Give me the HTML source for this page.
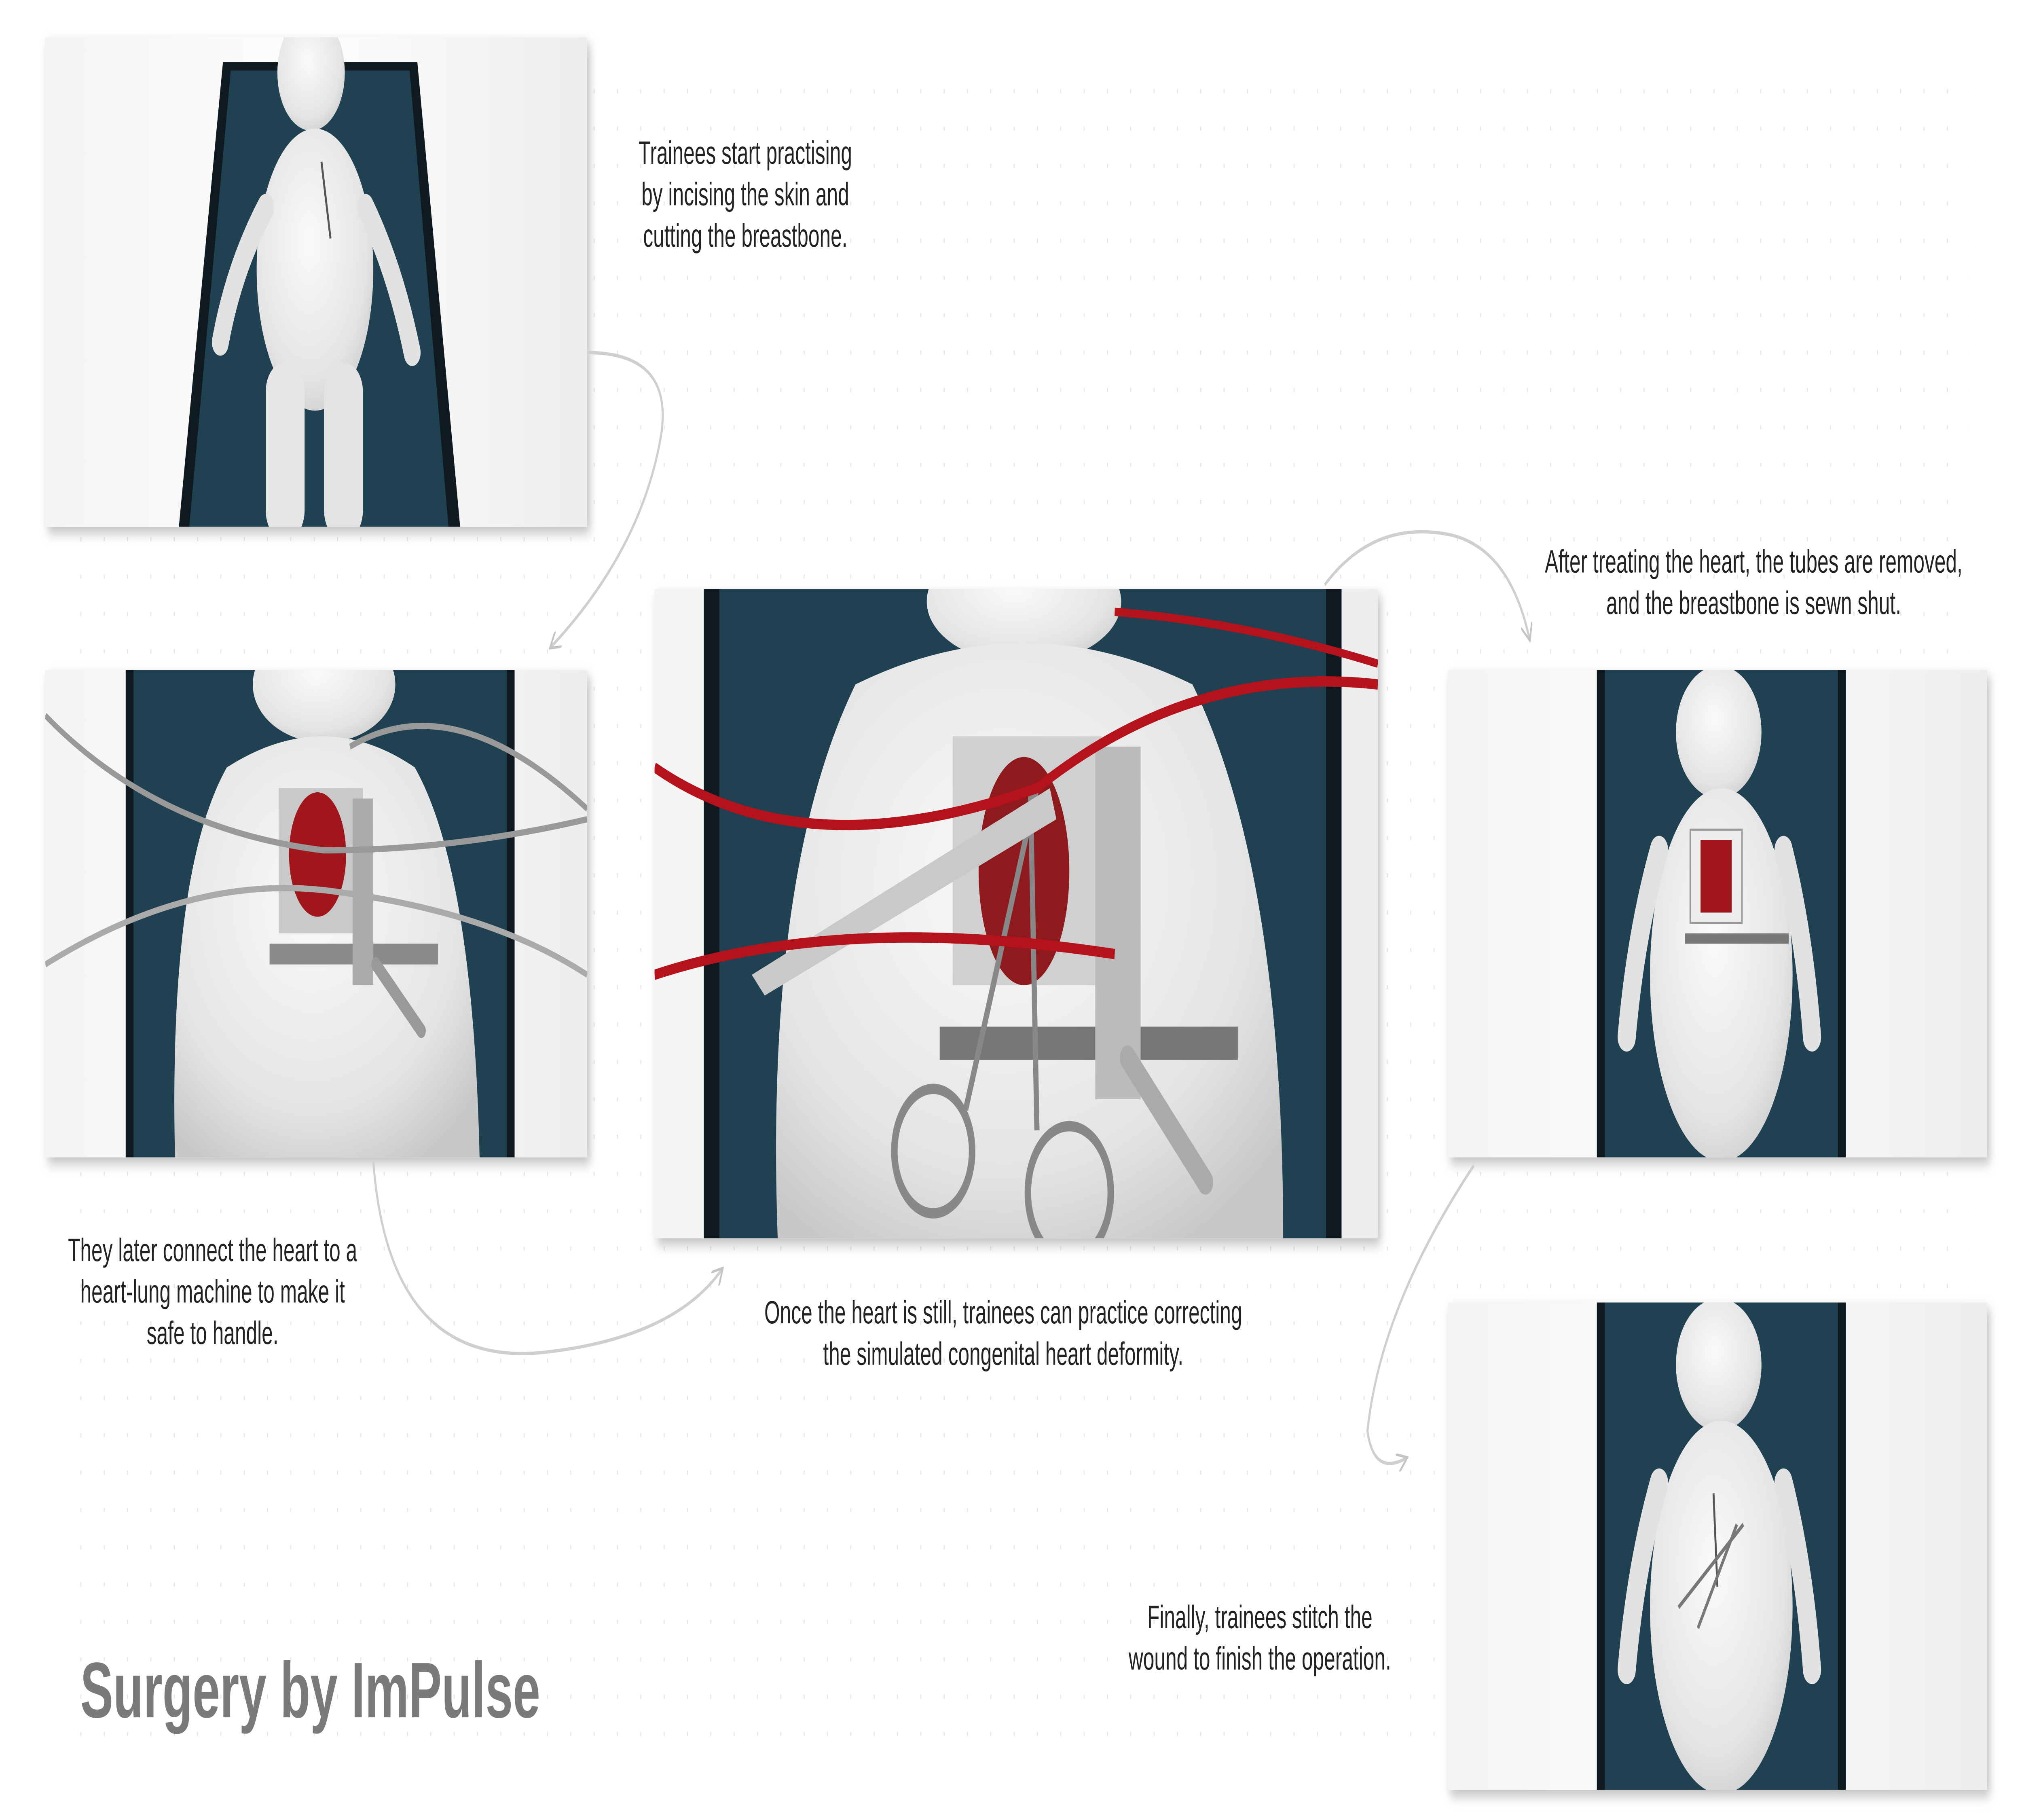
<!DOCTYPE html>
<html><head><meta charset="utf-8"><style>
html,body{margin:0;padding:0;background:#fff;width:100%;height:100%;overflow:hidden}
svg{display:block;position:fixed;left:0;top:0;width:100vw;height:100vh}
text{font-family:"Liberation Sans",sans-serif;fill:#222}
</style></head><body>
<svg viewBox="0 0 1560 877.5" preserveAspectRatio="none" xmlns="http://www.w3.org/2000/svg">
<defs>
<pattern id="dots" x="0" y="0" width="18" height="18" patternUnits="userSpaceOnUse">
<rect x="8" y="7" width="0.8" height="2" fill="#e6e6e6"/>
</pattern>
<linearGradient id="bgp" x1="0" x2="1"><stop offset="0" stop-color="#f4f4f4"/><stop offset="0.5" stop-color="#fdfdfd"/><stop offset="1" stop-color="#ededed"/></linearGradient>
<radialGradient id="skin" cx="0.45" cy="0.4" r="0.7"><stop offset="0" stop-color="#fafafa"/><stop offset="0.7" stop-color="#e4e4e4"/><stop offset="1" stop-color="#c8c8c8"/></radialGradient>
<filter id="sh" x="-5%" y="-5%" width="112%" height="115%"><feDropShadow dx="2" dy="3" stdDeviation="3" flood-color="#000" flood-opacity="0.25"/></filter>
<marker id="ah" viewBox="0 0 10 10" refX="8" refY="5" markerWidth="9" markerHeight="9" orient="auto-start-reverse" markerUnits="userSpaceOnUse"><path d="M0,0 L9,5 L0,10" fill="none" stroke="#c4c4c4" stroke-width="1.4"/></marker>
<clipPath id="c1"><rect x="35" y="18" width="418" height="236"/></clipPath>
<clipPath id="c2"><rect x="35" y="323" width="418" height="235"/></clipPath>
<clipPath id="c3"><rect x="505" y="284" width="558" height="313"/></clipPath>
<clipPath id="c4"><rect x="1117" y="323" width="416" height="235"/></clipPath>
<clipPath id="c5"><rect x="1117" y="628" width="416" height="235"/></clipPath>
</defs>
<rect x="50" y="40" width="1470" height="800" fill="url(#dots)"/>

<g filter="url(#sh)"><rect x="35" y="18" width="418" height="236" fill="url(#bgp)"/></g>
<g clip-path="url(#c1)">
<path d="M172,30 L322,30 L355,254 L138,254 Z" fill="#0f1a20"/>
<path d="M178,34 L316,34 L346,254 L146,254 Z" fill="#1f4152"/>
<ellipse cx="240" cy="35" rx="26" ry="28" fill="url(#skin)"/>
<ellipse cx="243" cy="130" rx="45" ry="68" fill="url(#skin)"/>
<path d="M205,100 Q180,130 170,165" stroke="#e2e2e2" stroke-width="13" fill="none" stroke-linecap="round"/>
<path d="M282,100 Q305,130 318,170" stroke="#e2e2e2" stroke-width="13" fill="none" stroke-linecap="round"/>
<rect x="205" y="175" width="30" height="85" rx="14" fill="#e6e6e6"/>
<rect x="250" y="175" width="30" height="85" rx="14" fill="#e3e3e3"/>
<line x1="248" y1="78" x2="255" y2="115" stroke="#555" stroke-width="1.5"/>
</g>

<g filter="url(#sh)"><rect x="35" y="323" width="418" height="235" fill="url(#bgp)"/></g>
<g clip-path="url(#c2)">
<rect x="97" y="323" width="300" height="235" fill="#1f4152"/>
<rect x="97" y="323" width="6" height="235" fill="#0f1a20"/>
<rect x="391" y="323" width="6" height="235" fill="#0f1a20"/>
<ellipse cx="250" cy="330" rx="55" ry="28" fill="url(#skin)"/>
<path d="M135,558 Q130,420 175,370 Q250,340 320,370 Q365,420 370,558 Z" fill="url(#skin)"/>
<rect x="215" y="380" width="65" height="70" fill="#c9c9c9"/>
<ellipse cx="245" cy="412" rx="22" ry="30" fill="#a0161b"/>
<rect x="208" y="455" width="130" height="10" fill="#8a8a8a"/>
<rect x="272" y="385" width="16" height="90" fill="#aaa"/>
<line x1="290" y1="465" x2="325" y2="497" stroke="#999" stroke-width="7" stroke-linecap="round"/>
<path d="M35,345 Q120,400 250,410 Q350,410 453,395" stroke="#999" stroke-width="3" fill="none"/>
<path d="M35,465 Q150,420 260,430 Q380,440 453,470" stroke="#aaa" stroke-width="3" fill="none"/>
<path d="M270,360 Q350,330 453,390" stroke="#999" stroke-width="3" fill="none"/>
</g>

<g filter="url(#sh)"><rect x="505" y="284" width="558" height="313" fill="url(#bgp)"/></g>
<g clip-path="url(#c3)">
<rect x="543" y="284" width="492" height="313" fill="#1f4152"/>
<rect x="543" y="284" width="12" height="313" fill="#0f1a20"/>
<rect x="1023" y="284" width="12" height="313" fill="#0f1a20"/>
<ellipse cx="790" cy="290" rx="75" ry="30" fill="url(#skin)"/>
<path d="M600,597 Q590,420 660,330 Q790,290 920,330 Q990,420 990,597 Z" fill="url(#skin)"/>
<rect x="735" y="355" width="115" height="120" fill="#d0d0d0"/>
<ellipse cx="790" cy="420" rx="35" ry="55" fill="#8e1a1e"/>
<rect x="725" y="495" width="230" height="16" fill="#777"/>
<rect x="845" y="360" width="35" height="170" fill="#bbb"/>
<line x1="870" y1="510" x2="930" y2="570" stroke="#aaa" stroke-width="12" stroke-linecap="round"/>
<circle cx="720" cy="555" r="30" fill="none" stroke="#888" stroke-width="5"/>
<circle cx="825" cy="575" r="32" fill="none" stroke="#888" stroke-width="5"/>
<line x1="745" y1="535" x2="800" y2="380" stroke="#888" stroke-width="4"/>
<line x1="800" y1="545" x2="795" y2="380" stroke="#888" stroke-width="4"/>
<path d="M580,470 L810,380 L815,395 L590,480 Z" fill="#c9c9c9"/>
<path d="M505,370 Q620,420 800,380 Q920,320 1063,330" stroke="#b5121b" stroke-width="5" fill="none"/>
<path d="M505,470 Q650,440 860,460" stroke="#b5121b" stroke-width="5" fill="none"/>
<path d="M860,295 Q960,300 1063,320" stroke="#b5121b" stroke-width="4" fill="none"/>
</g>

<g filter="url(#sh)"><rect x="1117" y="323" width="416" height="235" fill="url(#bgp)"/></g>
<g clip-path="url(#c4)">
<rect x="1232" y="323" width="192" height="235" fill="#0f1a20"/>
<rect x="1238" y="323" width="180" height="235" fill="#1f4152"/>
<ellipse cx="1326" cy="353" rx="33" ry="32" fill="url(#skin)"/>
<ellipse cx="1328" cy="470" rx="55" ry="90" fill="url(#skin)"/>
<path d="M1280,410 Q1262,450 1255,500" stroke="#e2e2e2" stroke-width="14" fill="none" stroke-linecap="round"/>
<path d="M1376,410 Q1392,450 1398,500" stroke="#e2e2e2" stroke-width="14" fill="none" stroke-linecap="round"/>
<rect x="1304" y="400" width="40" height="45" fill="#eee" stroke="#999"/>
<rect x="1312" y="405" width="24" height="35" fill="#a0161b"/>
<rect x="1300" y="450" width="80" height="5" fill="#777"/>
</g>

<g filter="url(#sh)"><rect x="1117" y="628" width="416" height="235" fill="url(#bgp)"/></g>
<g clip-path="url(#c5)">
<rect x="1232" y="628" width="192" height="235" fill="#0f1a20"/>
<rect x="1238" y="628" width="180" height="235" fill="#1f4152"/>
<ellipse cx="1326" cy="658" rx="33" ry="32" fill="url(#skin)"/>
<ellipse cx="1328" cy="775" rx="55" ry="90" fill="url(#skin)"/>
<path d="M1280,715 Q1262,755 1255,805" stroke="#e2e2e2" stroke-width="14" fill="none" stroke-linecap="round"/>
<path d="M1376,715 Q1392,755 1398,805" stroke="#e2e2e2" stroke-width="14" fill="none" stroke-linecap="round"/>
<line x1="1322" y1="720" x2="1325" y2="765" stroke="#555" stroke-width="1.5"/>
<path d="M1295,775 L1345,735 M1310,785 L1340,735" stroke="#777" stroke-width="2"/>
</g>

<g fill="none" stroke="#cfcfcf" stroke-width="1.6">
<path d="M453,170 Q520,170 510,210 Q495,265 425,312" marker-end="url(#ah)"/>
<path d="M288,560 Q300,660 420,652 Q520,645 557,612" marker-end="url(#ah)"/>
<path d="M1022,282 Q1060,250 1120,258 Q1165,265 1180,308" marker-end="url(#ah)"/>
<path d="M1137,562 Q1065,630 1055,690 Q1060,712 1085,703" marker-end="url(#ah)"/>
</g>

<g font-size="15.5" text-anchor="middle">
<text x="575" y="79">Trainees start practising</text>
<text x="575" y="99">by incising the skin and</text>
<text x="575" y="119">cutting the breastbone.</text>
<text x="164" y="608">They later connect the heart to a</text>
<text x="164" y="628">heart-lung machine to make it</text>
<text x="164" y="648">safe to handle.</text>
<text x="774" y="638">Once the heart is still, trainees can practice correcting</text>
<text x="774" y="658">the simulated congenital heart deformity.</text>
<text x="1353" y="276">After treating the heart, the tubes are removed,</text>
<text x="1353" y="296">and the breastbone is sewn shut.</text>
<text x="972" y="785">Finally, trainees stitch the</text>
<text x="972" y="805">wound to finish the operation.</text>
</g>
<text x="62" y="828" font-size="38" font-weight="bold" style="fill:#7a7a7a">Surgery by ImPulse</text>
</svg>
</body></html>
